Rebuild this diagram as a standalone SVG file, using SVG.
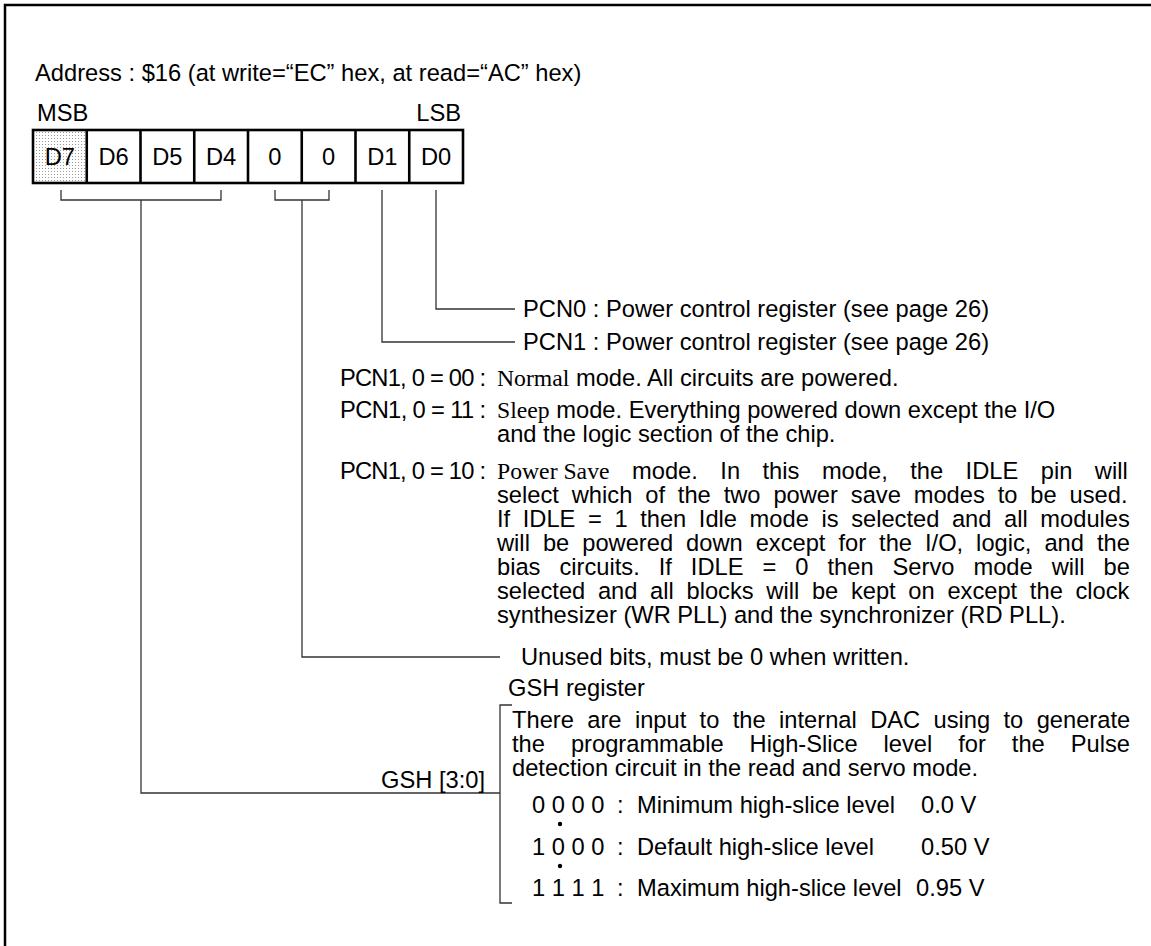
<svg xmlns="http://www.w3.org/2000/svg" width="1151" height="946" viewBox="0 0 1151 946">
<defs>
<pattern id="dots" width="3" height="3" patternUnits="userSpaceOnUse">
<rect width="3" height="3" fill="#ffffff"/>
<rect width="1" height="1" fill="#9a9a9a"/>
</pattern>
</defs>
<style>
text{font-family:"Liberation Sans",Arial,Helvetica,sans-serif;font-size:23.7px;fill:#000}
.serif{font-family:"Liberation Serif","Times New Roman",serif}
.box{fill:none;stroke:#000;stroke-width:2.6}
.conn{fill:none;stroke:#333;stroke-width:1.3}
.mid{text-anchor:middle}
.end{text-anchor:end}
</style>
<rect width="1151" height="946" fill="#fff"/>
<path d="M5,946 V5 H1151" fill="none" stroke="#000" stroke-width="2.5"/>

<g id="title">
<text x="35" y="81">Address : $16 (at write=“EC” hex, at read=“AC” hex)</text>
</g>

<g id="register">
<text x="37" y="121">MSB</text>
<text x="461" y="121" class="end">LSB</text>
<rect x="33" y="130" width="53.75" height="53" fill="url(#dots)"/>
<rect x="33" y="130" width="430" height="53" class="box"/>
<path d="M86.75,130V183M140.5,130V183M194.25,130V183M248,130V183M301.75,130V183M355.5,130V183M409.25,130V183" class="box"/>
<text x="59.9" y="165" class="mid">D7</text>
<text x="113.6" y="165" class="mid">D6</text>
<text x="167.4" y="165" class="mid">D5</text>
<text x="221.1" y="165" class="mid">D4</text>
<text x="274.9" y="165" class="mid">0</text>
<text x="328.6" y="165" class="mid">0</text>
<text x="382.4" y="165" class="mid">D1</text>
<text x="436.1" y="165" class="mid">D0</text>
</g>

<g id="connectors">
<path d="M61,190V200H221V190" class="conn"/>
<path d="M275,190V200H329V190" class="conn"/>
<path d="M436,190V309H515" class="conn"/>
<path d="M382,190V342H515" class="conn"/>
<path d="M302,200V657H500" class="conn"/>
<path d="M141,200V793H500" class="conn"/>
<path d="M512,705H500V903H512" class="conn"/>
</g>

<g id="pcn0">
<text x="523" y="317">PCN0 : Power control register (see page 26)</text>
</g>
<g id="pcn1">
<text x="523" y="350">PCN1 : Power control register (see page 26)</text>
</g>

<g id="modes">
<text x="340" y="386" textLength="146" lengthAdjust="spacing">PCN1, 0 = 00 :</text>
<text x="497" y="386"><tspan class="serif">Normal</tspan> mode. All circuits are powered.</text>
<text x="340" y="418" textLength="146" lengthAdjust="spacing">PCN1, 0 = 11 :</text>
<text x="497" y="418"><tspan class="serif">Sleep</tspan> mode. Everything powered down except the I/O</text>
<text x="497" y="442">and the logic section of the chip.</text>
<text x="340" y="479" textLength="146" lengthAdjust="spacing">PCN1, 0 = 10 :</text>
<text x="497" y="479" word-spacing="15.9"><tspan class="serif" word-spacing="0">Power Save</tspan> mode. In this mode, the IDLE pin will</text>
<text x="497" y="503" word-spacing="6.3">select which of the two power save modes to be used.</text>
<text x="497" y="527" word-spacing="6">If IDLE = 1 then Idle mode is selected and all modules</text>
<text x="497" y="551" word-spacing="6.4">will be powered down except for the I/O, logic, and the</text>
<text x="497" y="575" word-spacing="12.4">bias circuits. If IDLE = 0 then Servo mode will be</text>
<text x="497" y="599" word-spacing="6.1">selected and all blocks will be kept on except the clock</text>
<text x="497" y="623">synthesizer (WR PLL) and the synchronizer (RD PLL).</text>
</g>

<g id="unused">
<text x="521" y="665">Unused bits, must be 0 when written.</text>
</g>

<g id="gsh">
<text x="508" y="696">GSH register</text>
<text x="485" y="788" class="end">GSH [3:0]</text>
<text x="512" y="728" word-spacing="6.8">There are input to the internal DAC using to generate</text>
<text x="512" y="752" word-spacing="19.4">the programmable High-Slice level for the Pulse</text>
<text x="512" y="776">detection circuit in the read and servo mode.</text>
<text x="532" y="813">0 0 0 0</text>
<text x="617" y="813">:</text>
<text x="637" y="813">Minimum high-slice level</text>
<text x="921" y="813">0.0 V</text>
<circle cx="560" cy="824" r="2.2" fill="#000"/>
<text x="532" y="855">1 0 0 0</text>
<text x="617" y="855">:</text>
<text x="637" y="855">Default high-slice level</text>
<text x="921" y="855">0.50 V</text>
<circle cx="560" cy="866" r="2.2" fill="#000"/>
<text x="532" y="896">1 1 1 1</text>
<text x="617" y="896">:</text>
<text x="637" y="896">Maximum high-slice level</text>
<text x="916" y="896">0.95 V</text>
</g>
</svg>
